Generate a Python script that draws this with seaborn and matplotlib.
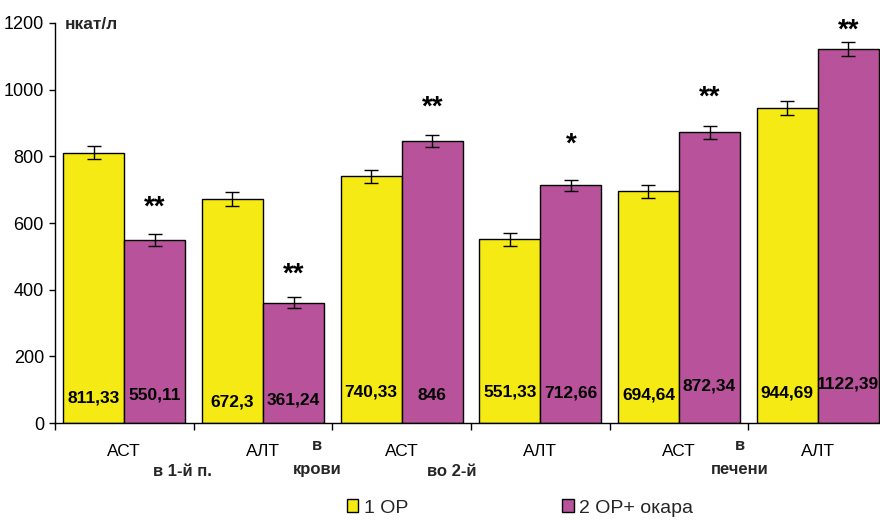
import numpy as np
import pandas as pd
import matplotlib
matplotlib.use("Agg")
import matplotlib.pyplot as plt
from matplotlib.patches import Patch
import seaborn as sns

# Enzyme activity (нкат/л) by measurement site
enzymes = ["АСТ", "АЛТ", "АСТ", "АЛТ", "АСТ", "АЛТ"]
groups = ["g1", "g2", "g3", "g4", "g5", "g6"]
series = ["1 ОР", "2 ОР+ окара"]
values_1 = [811.33, 672.3, 740.33, 551.33, 694.64, 944.69]
values_2 = [550.11, 361.24, 846.0, 712.66, 872.34, 1122.39]
errors_1 = [20, 20, 20, 20, 20, 20]
errors_2 = [18, 17, 17, 17, 20, 20]
labels_1 = ["811,33", "672,3", "740,33", "551,33", "694,64", "944,69"]
labels_2 = ["550,11", "361,24", "846", "712,66", "872,34", "1122,39"]
label_y_1 = [75, 63, 93, 93, 84, 90]
label_y_2 = [84, 69, 81, 90, 111, 117]
stars = ["**", "**", "**", "*", "**", "**"]
star_y = [645, 445, 945, 835, 975, 1176]
site_labels = ["в 1-й п.", "в\nкрови", "во 2-й", "в\nпечени"]
site_x = [0.42, 1.39, 2.36, 4.44]
site_y = [-147, -104, -147, -104]

colors = ["#F5EA14", "#B8529B"]

df = pd.DataFrame({
    "group": groups * 2,
    "series": [series[0]] * 6 + [series[1]] * 6,
    "value": values_1 + values_2,
})

sns.set_theme(style="white")
plt.rcParams["font.family"] = ["Liberation Sans", "DejaVu Sans"]

fig = plt.figure(figsize=(8.8, 5.2), dpi=100)
ax = fig.add_axes([55 / 880, 97 / 520, 832 / 880, 400 / 520])

sns.barplot(data=df, x="group", y="value", hue="series", order=groups,
            hue_order=series, palette=colors, width=0.88, saturation=1,
            edgecolor="black", linewidth=1.0, errorbar=None, legend=False, ax=ax)

# error bars, value labels, significance marks from bar patches
containers = ax.containers
for ci, (vals, errs, labs, ly) in enumerate([
        (values_1, errors_1, labels_1, label_y_1),
        (values_2, errors_2, labels_2, label_y_2)]):
    for i, (bar, v, e, t, y) in enumerate(zip(containers[ci], vals, errs, labs, ly)):
        xc = bar.get_x() + bar.get_width() / 2
        ax.errorbar(xc, v, yerr=e, fmt="none", ecolor="black",
                    elinewidth=1.0, capsize=5, capthick=1.0, zorder=5)
        ax.text(xc, y, t, ha="center", va="center", fontsize=12.5,
                fontweight="bold", color="black", zorder=6)
        if ci == 1:
            ax.text(xc, star_y[i], stars[i], ha="center", va="center",
                    fontsize=20, fontweight="bold", color="black")

ax.set_xlim(-0.5, 5.5)
ax.set_ylim(0, 1200)
ax.set_yticks(np.arange(0, 1201, 200))
ax.tick_params(axis="y", labelsize=13, length=4, width=1, pad=4,
               left=True, direction="out", colors="black")

# group boundaries as major ticks, enzyme names at group centres
ax.set_xticks(np.arange(-0.5, 5.6, 1.0))
ax.set_xticklabels([])
ax.tick_params(axis="x", which="major", length=5, width=1,
               bottom=True, direction="out", colors="black")
ax.set_xticks(np.arange(6), minor=True)
ax.set_xticklabels(enzymes, minor=True)
ax.tick_params(axis="x", which="minor", length=0, pad=15, labelsize=12.5,
               labelcolor="black")
ax.set_xlabel("")
ax.set_ylabel("")

for s in ["top", "right"]:
    ax.spines[s].set_visible(False)
for s in ["left", "bottom"]:
    ax.spines[s].set_color("black")
    ax.spines[s].set_linewidth(1.0)

for t, x, y in zip(site_labels, site_x, site_y):
    ax.text(x, y, t, ha="center", va="center", fontsize=12,
            fontweight="bold", linespacing=1.75, clip_on=False)

ax.text(-0.43, 1195, "нкат/л", ha="left", va="center", fontsize=12.5,
        fontweight="bold")

handles = [Patch(facecolor=c, edgecolor="black", linewidth=1.0) for c in colors]
fig.legend(handles, series, loc="center", bbox_to_anchor=(520 / 880, 1 - 508 / 520),
           ncol=2, frameon=False, fontsize=14, handlelength=0.6,
           handleheight=0.6, handletextpad=0.3, columnspacing=7.9,
           borderpad=0.1)

fig.savefig("out.png", dpi=100)
